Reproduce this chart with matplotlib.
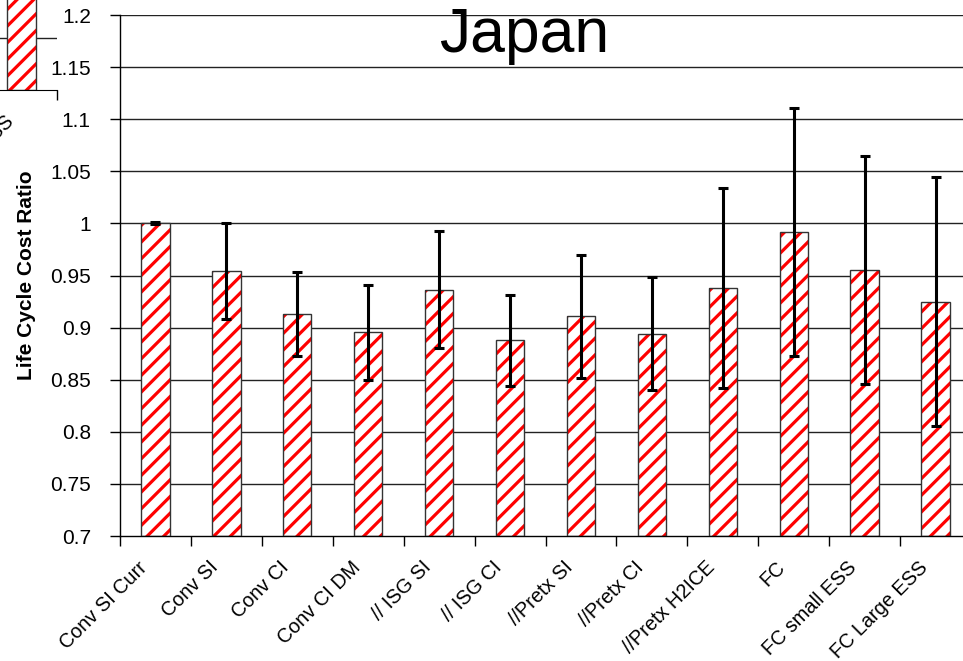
import numpy as np
import matplotlib.pyplot as plt
import matplotlib.transforms as mtransforms

plt.rcParams['font.family'] = ['Liberation Sans', 'DejaVu Sans']
plt.rcParams['hatch.linewidth'] = 2.3

# data
categories = ['Conv SI Curr', 'Conv SI', 'Conv CI', 'Conv CI DM', '// ISG SI', '// ISG CI',
              '//Pretx SI', '//Pretx CI', '//Pretx H2ICE', 'FC', 'FC small ESS', 'FC Large ESS']
ratio = [1.000, 0.954, 0.913, 0.896, 0.936, 0.888, 0.911, 0.894, 0.938, 0.992, 0.955, 0.925]
err_low = [0.999, 0.908, 0.873, 0.850, 0.880, 0.844, 0.852, 0.840, 0.842, 0.873, 0.846, 0.806]
err_high = [1.001, 1.000, 0.953, 0.941, 0.993, 0.931, 0.970, 0.949, 1.034, 1.111, 1.065, 1.045]
yticks = [0.7, 0.75, 0.8, 0.85, 0.9, 0.95, 1.0, 1.05, 1.1, 1.15, 1.2]
ytick_labels = ['0.7', '0.75', '0.8', '0.85', '0.9', '0.95', '1', '1.05', '1.1', '1.15', '1.2']

# piece of a neighbouring chart that sticks into the top-left corner
frag_categories = ['FC Large ESS']
frag_ratio = [0.9]

W, H = 963, 661
fig = plt.figure(figsize=(W / 100, H / 100), dpi=100)


def hatched_bars(ax, x, vals, bottom):
    heights = np.array(vals) - bottom
    ax.bar(x, heights, 0.4, bottom=bottom, facecolor='white', edgecolor='#ff0000',
           hatch='//', linewidth=0, zorder=2)
    ax.bar(x, heights, 0.4, bottom=bottom, fill=False, edgecolor='#333333',
           linewidth=1.0, zorder=3)


def cat_labels(ax, x, labels):
    # Excel-style slanted labels, right end just left of the category centre
    off = mtransforms.ScaledTranslation(-8 / 72, -20.5 / 72, fig.dpi_scale_trans)
    tr = ax.get_xaxis_transform() + off
    for xi, lab in zip(x, labels):
        ax.text(xi, 0, lab, transform=tr, rotation=45, rotation_mode='anchor',
                ha='right', va='center', fontsize=14.3, clip_on=False)


# main chart (right end runs past the picture edge)
ax = fig.add_axes([120 / W, (H - 536) / H, 851 / W, 521 / H])
x = np.arange(len(categories))
hatched_bars(ax, x, ratio, 0.7)
lo = np.array(ratio) - np.array(err_low)
hi = np.array(err_high) - np.array(ratio)
ax.errorbar(x, ratio, yerr=[lo, hi], fmt='none', ecolor='black', elinewidth=2.2,
            capsize=3.3, capthick=2.2, zorder=4)

ax.set_xlim(-0.5, len(categories) - 0.5)
ax.set_ylim(0.7, 1.2)
ax.set_yticks(yticks)
ax.set_yticklabels(ytick_labels, fontsize=15)
for v in yticks[1:]:
    ax.axhline(v, color='#222222', linewidth=1.0, zorder=1)

ax.set_xticks(np.arange(len(categories) + 1) - 0.5)
ax.set_xticklabels([])
cat_labels(ax, x, categories)
ax.tick_params(axis='x', length=7, width=1, direction='out')
ax.tick_params(axis='y', length=7, width=1, direction='out', pad=14)

ax.spines['top'].set_visible(False)
ax.spines['right'].set_visible(False)
ax.spines['left'].set_linewidth(1.0)
ax.spines['bottom'].set_linewidth(1.0)
ax.set_ylabel('Life Cycle Cost Ratio', fontsize=15, fontweight='bold')
ax.yaxis.set_label_coords(-84 / 851, 0.5)

fig.text(524 / W, (H - 52) / H, 'Japan', fontsize=45, ha='center', va='baseline')

# fragment axes in the corner
fx = fig.add_axes([-14 / W, (H - 90) / H, 71 / W, 104.2 / H])
fx.patch.set_visible(False)
hatched_bars(fx, np.arange(len(frag_categories)), frag_ratio, 0.7)
fx.set_xlim(-0.5, 0.5)
fx.set_ylim(0.7, 0.8)
fx.axhline(0.75, color='#222222', linewidth=1.0, zorder=1)
fx.set_yticks([])
fx.set_xticks([-0.5, 0.5])
fx.set_xticklabels([])
cat_labels(fx, np.arange(len(frag_categories)), frag_categories)
fx.tick_params(axis='x', length=7, width=1, direction='out')
for s in ['top', 'right', 'left']:
    fx.spines[s].set_visible(False)

fig.savefig('out.png', dpi=100)
